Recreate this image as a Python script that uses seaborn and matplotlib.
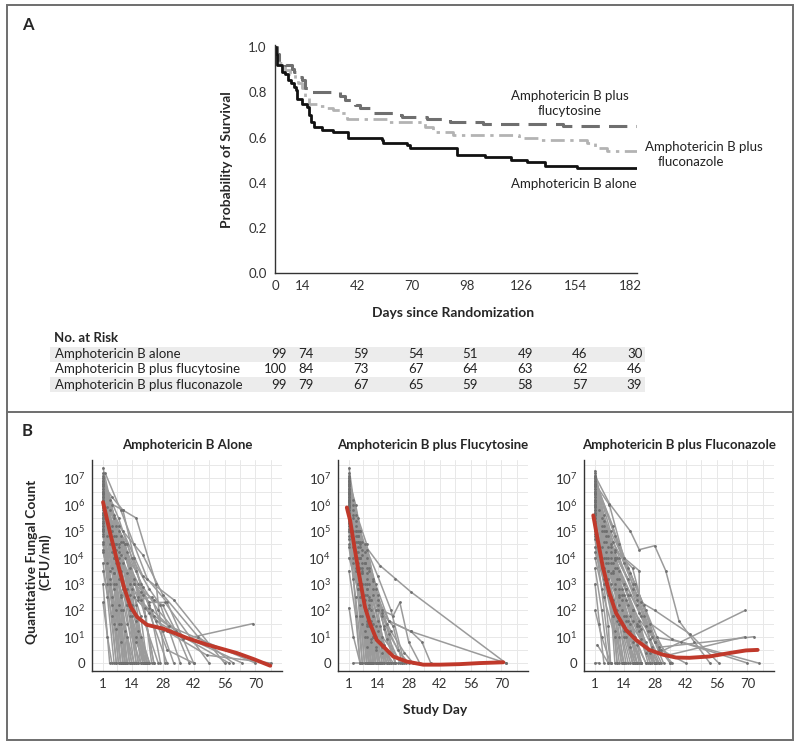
import numpy as np
import pandas as pd
import matplotlib
matplotlib.use("Agg")
import matplotlib.pyplot as plt
import matplotlib.transforms as mtransforms
from matplotlib.patches import Rectangle
from matplotlib.lines import Line2D
import seaborn as sns

sns.set_theme(style="white")
plt.rcParams['font.family'] = ['Lato', 'DejaVu Sans']
plt.rcParams['mathtext.fontset'] = 'custom'
plt.rcParams['mathtext.rm'] = 'Lato'

# ---- Panel A: Kaplan-Meier curves ----
alone_t = [0, 0.5, 1.2, 3.4, 5.1, 6.8, 8.2, 9.7, 10.7, 11.4, 13.6, 16.2, 17.6, 18.3, 20, 23.9, 29.9, 37.2,
           54.6, 55.4, 67.4, 69.1, 93, 107.5, 121, 128.8, 138.2, 154.4, 185]
alone_s = [1.0, 0.97, 0.92, 0.89, 0.88, 0.855, 0.84, 0.823, 0.81, 0.77, 0.75, 0.735, 0.70, 0.67, 0.645, 0.635,
           0.625, 0.60, 0.59, 0.575, 0.565, 0.555, 0.524, 0.512, 0.50, 0.49, 0.475, 0.465, 0.465]
flucy_t = [0, 0.8, 2.2, 5.1, 8.5, 9.7, 11, 13.6, 15.4, 18.8, 33.3, 35.8, 41, 43.5, 49.5, 62.3, 64.8, 77.6,
           89.6, 106.6, 147.6, 185]
flucy_s = [1.0, 0.97, 0.93, 0.92, 0.905, 0.89, 0.87, 0.855, 0.82, 0.80, 0.785, 0.765, 0.745, 0.73, 0.71, 0.70,
           0.69, 0.68, 0.67, 0.66, 0.652, 0.652]
flucz_t = [0, 0.8, 2.6, 5, 7.5, 10, 12, 13.6, 15.5, 17.5, 23, 26.4, 29.9, 34, 36.7, 58, 76.8, 81, 91, 125,
           135.6, 159.5, 163.8, 169.7, 185]
flucz_s = [1.0, 0.95, 0.93, 0.90, 0.88, 0.86, 0.84, 0.82, 0.78, 0.75, 0.74, 0.73, 0.72, 0.71, 0.68, 0.67,
           0.645, 0.625, 0.61, 0.60, 0.59, 0.575, 0.555, 0.54, 0.54]

risk_days = [0, 14, 42, 70, 98, 126, 154, 182]
risk_groups = ["Amphotericin B alone", "Amphotericin B plus flucytosine", "Amphotericin B plus fluconazole"]
risk_alone = [99, 74, 59, 54, 51, 49, 46, 30]
risk_flucy = [100, 84, 73, 67, 64, 63, 62, 46]
risk_flucz = [99, 79, 67, 65, 59, 58, 57, 39]

# ---- Panel B: patient trajectories, pairs of (day, log10 count; 0 = none) ----
alone_paths = [
    [1, 7.4, 6, 5.5, 12, 2.8, 17, 0], [1, 7.1, 5, 6.0, 9, 3.5, 15, 0], [1, 6.9, 4, 5.8, 8, 3.2, 12, 0],
    [1, 6.8, 7, 4.5, 14, 1.8, 20, 0], [1, 6.6, 3, 5.9, 6, 4.0, 10, 0], [1, 6.5, 8, 5.0, 14, 2.2, 22, 0],
    [1, 6.3, 5, 5.0, 9, 2.5, 13, 0], [1, 6.2, 10, 5.8, 16, 5.5, 25, 3.0, 29, 0], [1, 6.0, 4, 4.5, 7, 2.0, 9, 0],
    [1, 5.9, 6, 4.0, 12, 1.5, 18, 0], [1, 5.7, 3, 4.8, 8, 2.2, 11, 0], [1, 5.5, 5, 4.2, 10, 2.8, 16, 1.0, 21, 0],
    [1, 5.3, 4, 3.5, 7, 1.3, 9, 0], [1, 5.2, 7, 3.8, 14, 2.0, 22, 0], [1, 5.0, 6, 3.0, 10, 0],
    [1, 4.8, 4, 3.2, 8, 1.5, 12, 0], [1, 4.5, 5, 2.5, 8, 0], [1, 4.2, 6, 2.8, 12, 1.0, 15, 0],
    [1, 3.8, 3, 2.5, 6, 0], [1, 3.5, 5, 1.8, 7, 0], [1, 2.3, 3, 1.0, 5, 0],
    [1, 6.7, 8, 5.2, 19, 4.1, 28, 2.6, 44, 1.0, 60, 0], [2, 7.2, 9, 5.8, 15, 4.5, 21, 3.2, 30, 2.3, 42, 0],
    [1, 6.4, 10, 5.0, 19, 3.3, 33, 2.4, 56, 0], [1, 6.1, 9, 4.6, 15, 3.0, 22, 2.3, 29, 2.3, 49, 0],
    [1, 5.8, 12, 4.2, 19, 2.9, 26, 2.0, 37, 0.9, 69, 1.5], [1, 6.6, 11, 4.5, 18, 2.4, 24, 1.8, 38, 1.0, 64, 0],
    [1, 6.3, 13, 3.6, 20, 2.1, 30, 1.2, 48, 0.3, 77, 0], [1, 5.6, 8, 4.0, 15, 2.5, 22, 1.9, 30, 0],
    [1, 6.9, 8, 5.5, 14, 4.0, 22, 2.8, 27, 2.2, 36, 0], [1, 5.4, 9, 3.3, 14, 2.0, 20, 1.5, 26, 0],
    [1, 6.2, 7, 4.8, 13, 2.6, 18, 2.7, 24, 0], [1, 5.1, 10, 3.8, 17, 2.4, 23, 2.5, 28, 1.2, 33, 0],
    [1, 7.0, 6, 5.6, 11, 4.0, 17, 3.0, 23, 2.0, 30, 0.5, 42, 0], [1, 6.0, 11, 4.5, 17, 2.5, 25, 1.6, 35, 1.1, 58, 0],
    [1, 6.8, 5, 6.3, 10, 5.8, 15, 4.0, 19, 2.6, 23, 0], [1, 6.5, 6, 4.5, 12, 3.4, 18, 1.8, 21, 0],
    [1, 5.5, 7, 4.5, 16, 3.5, 22, 2.1, 31, 1.4, 70, 0], [1, 5.9, 8, 3.8, 13, 1.8, 16, 0],
    [1, 6.4, 9, 4.1, 17, 1.2, 19, 0], [1, 5.0, 8, 4.2, 15, 3.0, 24, 2.4, 28, 2.2, 34, 1.2, 40, 0],
    [1, 3.0, 4, 0.0, 13, 0],
    [1, 7.2, 5, 5.2, 10, 2.0, 14, 0], [1, 6.9, 6, 4.8, 11, 2.8, 16, 0], [1, 6.7, 4, 5.0, 9, 2.0, 11, 0],
    [1, 6.5, 7, 4.0, 12, 2.2, 17, 0], [1, 6.3, 3, 5.4, 7, 3.0, 10, 0], [1, 6.1, 6, 4.4, 13, 2.0, 19, 0],
    [1, 5.9, 5, 3.6, 9, 1.5, 12, 0], [1, 5.7, 7, 4.3, 14, 2.8, 18, 0], [1, 5.5, 3, 3.8, 6, 1.5, 8, 0],
    [1, 5.3, 6, 3.4, 11, 1.2, 14, 0], [1, 5.1, 4, 3.0, 9, 0.8, 11, 0], [1, 4.9, 6, 3.4, 12, 2.2, 16, 0.8, 20, 0],
    [1, 4.6, 3, 3.0, 7, 0], [1, 4.3, 5, 2.2, 9, 0], [1, 6.0, 8, 4.4, 16, 1.6, 20, 0],
    [1, 6.8, 9, 4.8, 15, 3.2, 20, 1.8, 24, 0], [1, 6.4, 7, 5.2, 12, 4.5, 18, 3.0, 22, 2.2, 27, 0],
    [1, 5.6, 10, 4.6, 16, 2.2, 20, 0], [1, 7.0, 4, 6.2, 8, 4.5, 13, 3.0, 18, 1.0, 21, 0], [1, 5.2, 9, 2.6, 13, 0],
]
flucy_paths = [
    [1, 7.2, 4, 5.0, 7, 2.5, 10, 0], [1, 7.0, 3, 5.8, 6, 3.2, 9, 0], [1, 6.8, 5, 4.8, 8, 2.0, 11, 0],
    [1, 6.6, 4, 5.2, 7, 3.5, 12, 1.0, 14, 0], [1, 6.5, 3, 5.0, 5, 2.8, 7, 0], [1, 6.3, 6, 4.5, 10, 2.2, 15, 0],
    [1, 6.2, 4, 4.2, 7, 1.5, 9, 0], [1, 6.0, 5, 4.8, 9, 2.8, 13, 1.0, 17, 0], [1, 5.8, 3, 4.0, 6, 1.8, 8, 0],
    [1, 5.6, 6, 4.0, 11, 2.0, 16, 0], [1, 5.4, 4, 3.5, 8, 1.2, 10, 0], [1, 5.2, 5, 3.8, 10, 2.5, 14, 1.2, 19, 0],
    [1, 5.0, 3, 3.2, 6, 0], [1, 4.7, 5, 3.0, 9, 1.4, 12, 0], [1, 4.4, 4, 2.5, 7, 0],
    [1, 4.0, 6, 2.5, 11, 0.8, 13, 0], [1, 3.5, 4, 1.8, 6, 0], [1, 2.1, 3, 1.0, 6, 0],
    [1, 6.9, 7, 4.6, 15, 3.7, 22, 3.2, 29, 2.7, 72, 0], [1, 6.4, 8, 4.5, 13, 3.0, 19, 1.6, 29, 1.2, 72, 0],
    [1, 6.7, 6, 5.0, 10, 3.6, 16, 2.0, 21, 1.8, 24, 2.3, 28, 0.8, 33, 0],
    [1, 6.1, 7, 4.1, 12, 2.8, 19, 1.6, 29, 1.2, 34, 0.8, 38, 0], [1, 5.9, 8, 3.8, 14, 2.2, 20, 1.2, 26, 0.4, 30, 0],
    [1, 6.6, 9, 4.0, 14, 2.6, 18, 1.5, 22, 0], [1, 5.7, 7, 3.4, 12, 1.8, 16, 1.0, 25, 0],
    [1, 6.3, 5, 4.6, 9, 3.0, 13, 2.0, 17, 0.6, 20, 0], [1, 6.8, 6, 5.0, 12, 3.2, 16, 1.8, 23, 0.5, 28, 0],
    [1, 6.0, 4, 5.0, 9, 3.4, 14, 2.0, 18, 0], [1, 5.5, 6, 3.6, 10, 2.4, 15, 0.8, 21, 0],
    [1, 6.2, 3, 5.6, 8, 3.8, 11, 1.5, 14, 0], [1, 5.1, 5, 4.4, 10, 3.5, 16, 1.9, 21, 1.4, 25, 0],
    [1, 4.8, 7, 3.0, 11, 1.6, 13, 0], [1, 6.9, 4, 6.0, 8, 4.2, 11, 2.4, 15, 0],
    [1, 6.5, 7, 4.3, 12, 3.1, 17, 1.3, 24, 0], [1, 5.3, 4, 4.0, 7, 3.0, 12, 1.5, 17, 0.7, 20, 0],
    [1, 6.1, 6, 4.6, 9, 4.3, 14, 3.3, 20, 2.0, 26, 0], [1, 5.9, 5, 3.0, 8, 1.0, 9, 0],
    [1, 7.0, 5, 5.5, 9, 4.5, 13, 2.8, 18, 0.9, 22, 0], [1, 6.4, 4, 4.8, 10, 2.1, 12, 0],
    [1, 5.6, 5, 4.6, 8, 3.8, 14, 2.4, 19, 1.1, 27, 0], [3, 0, 23, 0],
    [1, 7.4, 3, 6.2, 6, 4.0, 9, 1.5, 10, 0], [1, 7.1, 4, 5.4, 8, 3.0, 11, 0], [1, 6.9, 5, 5.0, 9, 3.2, 12, 1.0, 13, 0],
    [1, 6.7, 3, 5.5, 7, 3.4, 10, 1.4, 12, 0], [1, 6.5, 5, 4.2, 8, 2.4, 10, 0], [1, 6.3, 4, 4.6, 9, 2.6, 13, 0.6, 15, 0],
    [1, 6.1, 3, 4.4, 6, 2.2, 8, 0], [1, 5.9, 6, 4.0, 12, 1.8, 16, 0.4, 18, 0], [1, 5.7, 4, 4.2, 8, 2.6, 11, 0.9, 13, 0],
    [1, 5.5, 5, 3.4, 9, 1.6, 11, 0], [1, 5.3, 3, 3.8, 7, 1.8, 10, 0], [1, 6.8, 4, 5.6, 9, 3.6, 14, 1.6, 17, 0],
    [1, 6.6, 6, 4.4, 10, 3.0, 15, 1.4, 19, 0], [1, 6.2, 5, 4.0, 11, 2.4, 16, 0.6, 18, 0],
    [1, 6.0, 7, 3.6, 12, 2.6, 17, 1.4, 22, 0], [1, 5.8, 3, 4.6, 6, 3.0, 9, 1.0, 11, 0], [1, 6.4, 7, 3.8, 13, 1.4, 16, 0],
    [1, 5.0, 4, 3.6, 9, 2.0, 13, 0.5, 15, 0], [1, 4.5, 5, 2.8, 9, 0.6, 10, 0], [1, 6.9, 3, 6.0, 5, 4.8, 9, 2.8, 12, 0],
]
flucz_paths = [
    [1, 7.1, 7.5, 6.05, 17, 5.0, 21, 4.3, 28, 4.45, 33, 3.5, 39, 1.6, 46, 0.8, 53, 0],
    [1, 6.8, 7.5, 6.0, 14, 4.0, 21, 3.5, 21, 1.9, 28, 0.8, 35, 0],
    [1, 7.2, 4, 5.5, 8, 3.8, 12, 1.5, 15, 0], [1, 7.0, 5, 5.2, 10, 3.0, 14, 1.0, 17, 0],
    [1, 6.9, 3, 5.8, 7, 3.5, 10, 0], [1, 6.7, 6, 5.0, 12, 3.2, 17, 1.8, 22, 0], [1, 6.5, 4, 5.0, 8, 2.5, 11, 0],
    [1, 6.4, 7, 4.8, 14, 3.0, 20, 1.5, 25, 0], [1, 6.2, 5, 4.0, 9, 1.8, 12, 0],
    [1, 6.0, 8, 4.5, 15, 2.8, 21, 1.2, 28, 0], [1, 5.8, 4, 3.8, 7, 1.4, 8, 0],
    [1, 5.6, 6, 4.2, 12, 2.5, 18, 1.0, 21, 0], [1, 5.4, 9, 3.8, 16, 2.2, 24, 0.8, 28, 0],
    [1, 5.2, 5, 3.2, 10, 1.2, 14, 0], [1, 5.0, 7, 3.5, 13, 2.0, 19, 0], [1, 4.7, 4, 2.8, 8, 0],
    [1, 4.4, 6, 3.0, 12, 1.5, 16, 0], [1, 4.0, 5, 2.5, 10, 1.0, 11, 0], [1, 3.6, 4, 2.0, 7, 0],
    [1, 3.0, 3, 1.5, 5, 0], [1, 2.0, 4, 1.0, 8, 0], [2, 0.7, 7, 0], [1, 0, 3, 0],
    [1, 6.6, 9, 4.6, 17, 3.4, 24, 2.0, 30, 0.4, 69, 2.0], [1, 6.3, 10, 4.2, 18, 2.8, 26, 1.2, 34, 0.3, 69, 1.0],
    [1, 6.1, 8, 4.4, 16, 3.2, 23, 1.8, 30, 0.6, 73, 1.0], [1, 5.9, 11, 4.0, 20, 2.4, 28, 2.0, 44, 1.1, 57, 0],
    [1, 6.8, 12, 4.5, 19, 3.0, 26, 1.5, 36, 0.9, 70, 0], [1, 6.5, 10, 3.9, 18, 2.0, 27, 1.0, 40, 0.8, 75, 0],
    [1, 5.7, 9, 3.5, 17, 1.5, 24, 0.6, 30, 0], [1, 6.2, 6, 4.6, 13, 2.8, 21, 1.4, 27, 0],
    [1, 7.0, 8, 5.0, 16, 3.6, 23, 2.2, 29, 1.0, 35, 0], [1, 5.5, 5, 3.6, 11, 2.0, 15, 1.2, 22, 0],
    [1, 6.9, 9, 5.2, 14, 3.8, 20, 2.6, 28, 0.8, 32, 0], [1, 6.0, 7, 3.2, 14, 1.2, 18, 0],
    [1, 5.3, 8, 3.0, 15, 1.8, 20, 0.7, 24, 0], [1, 6.4, 5, 5.0, 10, 3.6, 16, 2.6, 22, 1.3, 26, 0],
    [1, 4.9, 7, 3.8, 13, 2.4, 18, 2.0, 25, 0.5, 28, 0], [1, 6.7, 12, 3.5, 22, 1.8, 31, 0.5, 42, 0],
    [1, 5.8, 6, 4.8, 10, 4.3, 18, 3.6, 22, 2.3, 30, 0.5, 36, 0],
    [1, 7.3, 5, 5.6, 11, 3.6, 16, 1.6, 20, 0], [1, 7.1, 6, 5.0, 12, 2.8, 18, 0.8, 22, 0],
    [1, 6.9, 4, 5.2, 9, 3.4, 14, 1.4, 18, 0], [1, 6.7, 7, 4.4, 13, 2.6, 19, 1.0, 24, 0],
    [1, 6.5, 5, 4.6, 10, 2.8, 15, 1.0, 19, 0], [1, 6.3, 8, 4.2, 15, 2.4, 22, 0.9, 26, 0],
    [1, 6.1, 4, 4.4, 9, 2.4, 13, 0], [1, 5.9, 6, 4.0, 12, 2.2, 17, 0.6, 20, 0],
    [1, 5.7, 7, 4.0, 14, 2.6, 20, 1.4, 26, 0.4, 28, 0], [1, 5.5, 4, 3.6, 9, 1.8, 13, 0],
    [1, 5.3, 6, 3.8, 12, 2.6, 17, 1.2, 22, 0], [1, 5.1, 8, 3.4, 15, 1.6, 20, 0],
    [1, 6.8, 5, 5.4, 10, 4.0, 15, 2.8, 21, 1.6, 27, 0.6, 30, 0], [1, 6.6, 8, 4.0, 14, 1.8, 18, 0],
    [1, 6.0, 10, 4.0, 17, 2.6, 24, 1.4, 29, 0], [1, 4.8, 5, 3.0, 11, 1.6, 14, 0], [1, 4.2, 7, 2.6, 12, 1.0, 14, 0],
    [1, 7.0, 10, 4.8, 18, 3.0, 25, 1.2, 28, 0], [1, 6.4, 12, 4.0, 20, 2.2, 26, 0.9, 31, 0],
    [1, 5.6, 11, 3.2, 18, 1.6, 24, 0.4, 28, 0],
]

# smoothed mean curves (red)
red_alone_d = [1, 4.3, 7.3, 10.4, 13.4, 16.4, 20.9, 28.4, 39, 48, 61.6, 69.2, 76.7]
red_alone_v = [6.1, 4.9, 3.9, 2.9, 2.15, 1.75, 1.45, 1.3, 0.95, 0.7, 0.38, 0.15, -0.1]
red_flucy_d = [0, 1.5, 3.7, 6, 8.2, 10.5, 13.5, 16.5, 21, 27, 34.6, 42, 51, 60, 70.8]
red_flucy_v = [5.9, 5.4, 4.27, 3.14, 2.13, 1.5, 0.88, 0.63, 0.25, 0.06, -0.06, -0.06, -0.04, 0.0, 0.03]
red_flucz_d = [0.2, 2.2, 4.5, 7.5, 10.5, 15, 19.5, 25.6, 31.6, 37.7, 43.7, 52.7, 61.8, 69.3, 74.6]
red_flucz_v = [5.6, 4.67, 3.66, 2.65, 1.9, 1.26, 0.88, 0.5, 0.32, 0.21, 0.2, 0.25, 0.38, 0.48, 0.5]

W, H = 800, 749
fig = plt.figure(figsize=(W / 100, H / 100), dpi=100)


def fx(px):
    return px / W


def fy(py):
    return 1 - py / H


# outer frame and separator
fig.add_artist(Rectangle((fx(7), fy(740)), fx(786), (740 - 5) / H, fill=False,
                         edgecolor='#6e6e6e', lw=1.4, transform=fig.transFigure))
fig.add_artist(Line2D([fx(7), fx(793)], [fy(411.5), fy(411.5)], color='#6e6e6e', lw=1.4,
                      transform=fig.transFigure))
fig.text(fx(22), fy(25), "A", fontsize=12, fontweight='bold', va='center', ha='left')
fig.text(fx(22), fy(431), "B", fontsize=12, fontweight='bold', va='center', ha='left')

# ---- Panel A ----
axA = fig.add_axes([fx(275), fy(273), 361.5 / W, 228 / H])
km = pd.concat([
    pd.DataFrame({'day': alone_t, 'surv': alone_s, 'grp': 'alone'}),
    pd.DataFrame({'day': flucy_t, 'surv': flucy_s, 'grp': 'flucy'}),
    pd.DataFrame({'day': flucz_t, 'surv': flucz_s, 'grp': 'flucz'}),
])
km_style = {'alone': ('#111111', (None, None), 2.0),
            'flucy': ('#6f6f6f', (6, 3), 2.2),
            'flucz': ('#b3b3b3', (5, 2, 1.2, 2), 2.0)}
for g in ['flucz', 'flucy', 'alone']:
    col, dash, lw = km_style[g]
    sub = km[km.grp == g]
    sns.lineplot(data=sub, x='day', y='surv', ax=axA, color=col, lw=lw, drawstyle='steps-post',
                 estimator=None, sort=False, legend=False)
    if dash[0] is not None:
        axA.lines[-1].set_dashes(dash)

axA.set_xlim(0, 185)
axA.set_ylim(0, 1.01)
axA.set_xticks(np.arange(0, 183, 14))
axA.set_xticklabels([str(d) if d in risk_days else '' for d in np.arange(0, 183, 14)])
axA.set_yticks([0, 0.2, 0.4, 0.6, 0.8, 1.0])
axA.set_yticklabels(['0.0', '0.2', '0.4', '0.6', '0.8', '1.0'])
axA.tick_params(axis='x', direction='in', length=4, width=1, colors='#333333', labelsize=9.5, pad=5)
axA.tick_params(axis='y', direction='out', length=4, width=1, colors='#333333', labelsize=9.5, pad=2)
for s in ['top', 'right']:
    axA.spines[s].set_visible(False)
for s in ['left', 'bottom']:
    axA.spines[s].set_color('#333333')
    axA.spines[s].set_linewidth(1.0)
axA.set_xlabel('')
axA.set_ylabel('')
axA.patch.set_alpha(0)
fig.text(fx(453), fy(313), "Days since Randomization", fontsize=10, fontweight='bold', ha='center', va='center')
fig.text(fx(227), fy(160), "Probability of Survival", fontsize=10, fontweight='bold', ha='center',
         va='center', rotation=90)

fig.text(fx(570), fy(96), "Amphotericin B plus", fontsize=9.5, ha='center', va='center', color='#222222')
fig.text(fx(570), fy(111), "flucytosine", fontsize=9.5, ha='center', va='center', color='#222222')
fig.text(fx(645), fy(147), "Amphotericin B plus", fontsize=9.5, ha='left', va='center', color='#222222')
fig.text(fx(658), fy(162), "fluconazole", fontsize=9.5, ha='left', va='center', color='#222222')
fig.text(fx(574), fy(184), "Amphotericin B alone", fontsize=9.5, ha='center', va='center', color='#222222')

# risk table
trans = mtransforms.blended_transform_factory(axA.transData, fig.transFigure)
fig.text(fx(54), fy(338), "No. at Risk", fontsize=9.5, fontweight='bold', ha='left', va='center')
row_y = [354, 369.5, 385]
for i, (name, vals) in enumerate(zip(risk_groups, [risk_alone, risk_flucy, risk_flucz])):
    if i != 1:
        fig.add_artist(Rectangle((fx(50), fy(row_y[i] + 7.5)), fx(595), 15 / H, facecolor='#ececec',
                                 edgecolor='none', transform=fig.transFigure, zorder=0))
    fig.text(fx(55), fy(row_y[i]), name, fontsize=9.5, ha='left', va='center', color='#222222')
    for d, v in zip(risk_days, vals):
        axA.text(d + 6, fy(row_y[i]), str(v), transform=trans, fontsize=9.5, ha='right', va='center',
                 color='#222222', clip_on=False)

# ---- Panel B ----
titles = ["Amphotericin B Alone", "Amphotericin B plus Flucytosine", "Amphotericin B plus Fluconazole"]
lefts = [92, 338, 584]
paths_all = [alone_paths, flucy_paths, flucz_paths]
reds = [(red_alone_d, red_alone_v), (red_flucy_d, red_flucy_v), (red_flucz_d, red_flucz_v)]

for k in range(3):
    ax = fig.add_axes([fx(lefts[k]), fy(671), 190 / W, 211 / H])
    rows = []
    for pid, p in enumerate(paths_all[k]):
        for j in range(0, len(p), 2):
            rows.append((pid, j // 2, p[j], p[j + 1]))
    df = pd.DataFrame(rows, columns=['pid', 'order', 'day', 'val'])
    sns.lineplot(data=df, x='day', y='val', units='pid', estimator=None, sort=False, ax=ax,
                 color='#9b9b9b', lw=1.1, legend=False, zorder=2)
    sns.scatterplot(data=df, x='day', y='val', ax=ax, color='#6f6f6f', s=4, linewidth=0,
                    legend=False, zorder=3)
    sns.lineplot(x=reds[k][0], y=reds[k][1], ax=ax, color='#c0392b', lw=2.8, sort=False,
                 estimator=None, zorder=4)
    ax.set_xlim(-4, 82)
    ax.set_ylim(-0.3, 7.7)
    ax.set_xticks([1, 14, 28, 42, 56, 70])
    ax.set_xticks([7.5, 21, 35, 49, 63, 77], minor=True)
    ax.set_yticks(range(8))
    ax.set_yticks(np.arange(0.5, 7.6, 1), minor=True)
    ax.set_yticklabels(['0'] + [r'$10^{%d}$' % i for i in range(1, 8)])
    ax.grid(True, which='both', color='#e8e8e8', lw=0.7)
    ax.set_axisbelow(True)
    ax.tick_params(which='minor', length=0)
    ax.tick_params(which='major', direction='out', length=3, width=1, colors='#333333', labelsize=9.5, pad=2)
    for s in ['top', 'right']:
        ax.spines[s].set_visible(False)
    for s in ['left', 'bottom']:
        ax.spines[s].set_color('#333333')
        ax.spines[s].set_linewidth(1.0)
    ax.set_xlabel('')
    ax.set_ylabel('')
    ax.set_title(titles[k], fontsize=9.5, fontweight='bold', pad=8)

fig.text(fx(39), fy(562), "Quantitative Fungal Count\n(CFU/ml)", fontsize=10, fontweight='bold',
         ha='center', va='center', rotation=90, linespacing=1.1)
fig.text(fx(435), fy(710), "Study Day", fontsize=10, fontweight='bold', ha='center', va='center')

fig.savefig('out.png', dpi=100, facecolor='white')
